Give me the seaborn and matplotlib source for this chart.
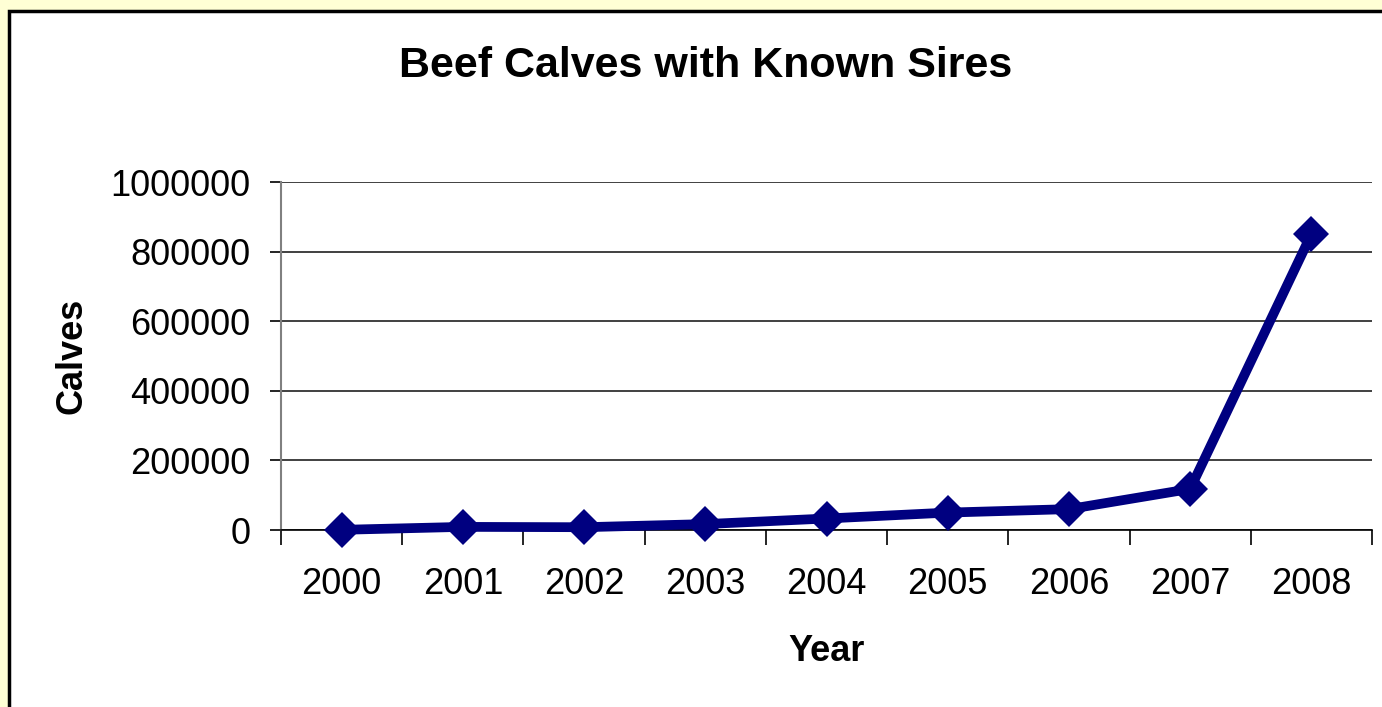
import matplotlib.pyplot as plt
import matplotlib.patches as mpatches
import numpy as np
import pandas as pd
import seaborn as sns

years = ["2000", "2001", "2002", "2003", "2004", "2005", "2006", "2007", "2008"]
calves = [500, 9000, 8000, 17000, 33000, 50000, 60000, 118000, 850000]
y_ticks = [0, 200000, 400000, 600000, 800000, 1000000]


def main():
    sns.set_style("white")
    plt.rcParams["font.family"] = ["Liberation Sans", "DejaVu Sans"]
    plt.rcParams["text.color"] = "black"
    plt.rcParams["axes.labelcolor"] = "black"
    plt.rcParams["xtick.labelcolor"] = "black"
    plt.rcParams["ytick.labelcolor"] = "black"

    df = pd.DataFrame({"pos": np.arange(len(years)), "calves": calves})

    fig = plt.figure(figsize=(13.82, 7.07), dpi=100)
    fig.patch.set_facecolor("#FFFFD5")
    # white chart area with black frame, runs off the right/bottom edge
    frame = mpatches.Rectangle((9 / 1382, -0.05), 1.1, 1 - 11 / 707 + 0.05,
                               transform=fig.transFigure, facecolor="white",
                               edgecolor="black", linewidth=2.5, zorder=-1)
    fig.patches.append(frame)

    ax = fig.add_axes([281 / 1382, 1 - 530 / 707, (1372 - 281) / 1382, (530 - 182) / 707])
    ax.set_facecolor("none")

    sns.lineplot(data=df, x="pos", y="calves", ax=ax, color="#000080",
                 linewidth=7, marker="D", markersize=18, markeredgewidth=0,
                 clip_on=False, zorder=5)

    ax.set_xlim(-0.5, len(years) - 0.5)
    ax.set_ylim(0, 1000000)
    ax.set_yticks(y_ticks)
    ax.set_yticklabels([str(v) for v in y_ticks], fontsize=26)
    ax.set_xticks(np.arange(len(years)))
    ax.set_xticklabels(years, fontsize=26)
    ax.set_xticks(np.arange(len(years) + 1) - 0.5, minor=True)
    ax.tick_params(axis="x", which="major", length=0, pad=27)
    ax.tick_params(axis="x", which="minor", length=11, width=1.2, color="black", direction="out", bottom=True)
    ax.tick_params(axis="y", which="major", length=8, width=1.2, color="black", direction="out", left=True, pad=14)

    ax.grid(axis="y", color="#202020", linewidth=1.2)
    ax.set_axisbelow(True)
    for side in ["top", "right"]:
        ax.spines[side].set_visible(False)
    ax.spines["left"].set_color("#808080")
    ax.spines["left"].set_linewidth(1.5)
    ax.spines["bottom"].set_color("black")
    ax.spines["bottom"].set_linewidth(1.2)

    ax.set_xlabel("Year", fontsize=26, fontweight="bold", labelpad=23)
    ax.set_ylabel("Calves", fontsize=26, fontweight="bold", labelpad=15)

    fig.text(706 / 1382, 1 - 66 / 707, "Beef Calves with Known Sires", ha="center", va="center",
             fontsize=31, fontweight="bold")

    fig.savefig("out.png", dpi=100, facecolor=fig.get_facecolor())


if __name__ == "__main__":
    main()
